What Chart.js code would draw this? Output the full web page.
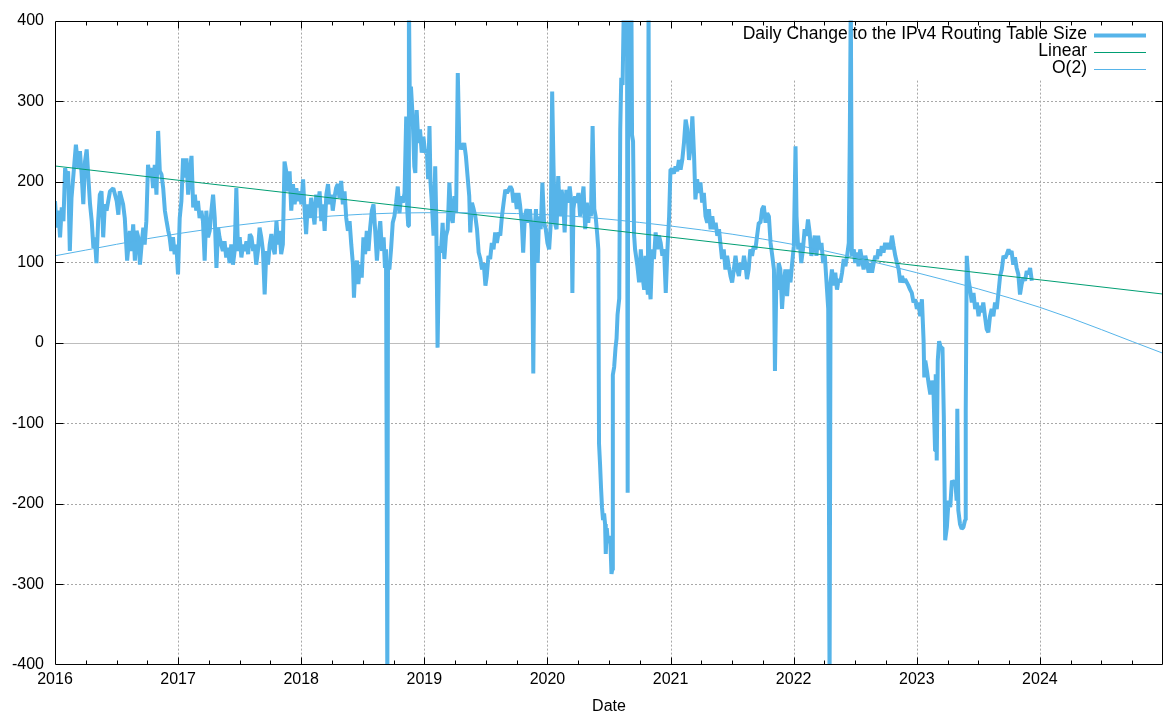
<!DOCTYPE html>
<html>
<head>
<meta charset="utf-8">
<title>Daily Change to the IPv4 Routing Table Size</title>
<script src="https://cdn.jsdelivr.net/npm/chart.js@4.4.1/dist/chart.umd.min.js"></script>
<style>
  html, body { margin: 0; padding: 0; background: #fff; }
  canvas { display: block; }
</style>
</head>
<body>
<canvas id="chart" width="1168" height="713"></canvas>
<script>
// days since 2016-01-01, and the daily change
const days = [
  0, 5, 10, 15, 20, 25, 30, 35, 39, 44,
  49, 54, 62, 69, 74, 79, 84, 89, 94, 99,
  104, 109, 114, 118, 123, 128, 133, 138, 143, 148,
  153, 163, 173, 183, 188, 192, 202, 207, 214, 222,
  227, 232, 237, 242, 247, 252, 257, 262, 266, 271,
  276, 281, 286, 291, 296, 301, 306, 311, 316, 321,
  326, 331, 336, 340, 345, 350, 355, 360, 365, 370,
  375, 380, 385, 390, 395, 400, 405, 410, 415, 419,
  424, 429, 434, 439, 444, 449, 454, 459, 464, 469,
  474, 479, 484, 488, 493, 498, 503, 508, 513, 518,
  523, 528, 533, 538,
  543, 548, 553, 558, 563, 568, 573, 578, 583, 588,
  592, 597, 602, 607, 612, 617, 622, 627, 632, 637,
  642, 647, 652, 657, 662, 666, 671, 676, 681, 686,
  691, 696, 701, 706, 711, 716, 721, 726, 731, 736,
  740, 745, 750, 755, 760, 765, 770, 775, 780, 785,
  790, 795, 800, 805, 810, 815, 820, 824, 829, 834,
  839, 844, 849, 854, 859, 864, 869, 874, 879, 884,
  887, 891, 896, 900, 905, 910, 915, 920, 925, 930,
  935, 940, 945, 950, 955, 960, 965, 970, 975, 979,
  982, 984, 986, 988, 992, 997, 1002, 1007, 1012, 1017,
  1022, 1027, 1032, 1037, 1042, 1045, 1048, 1050, 1053, 1056,
  1061, 1066, 1069, 1073, 1078, 1083, 1088, 1093, 1098, 1103,
  1107, 1111, 1114, 1118, 1123, 1128, 1131, 1135, 1140, 1145,
  1150, 1155, 1160, 1165, 1170, 1175, 1180, 1185, 1190, 1195,
  1200, 1205, 1209, 1214, 1219, 1224, 1229, 1232, 1237, 1242,
  1247, 1252, 1257, 1262, 1267, 1272, 1277, 1281, 1286, 1291,
  1296, 1301, 1306, 1311, 1316, 1321, 1326, 1331, 1336, 1341,
  1346, 1351, 1356, 1360, 1365, 1370, 1375, 1380, 1385, 1389,
  1394, 1399, 1404, 1409, 1414, 1417, 1419, 1423, 1427, 1432,
  1436, 1441, 1446, 1451, 1456, 1461, 1466, 1471, 1475, 1479,
  1483, 1488, 1493, 1498, 1503, 1508, 1512, 1517, 1522, 1527,
  1532, 1535, 1538, 1543, 1548, 1553, 1558, 1563, 1568, 1573,
  1578, 1582, 1586, 1590, 1595, 1600, 1604, 1609, 1612, 1614,
  1617, 1620, 1623, 1626, 1629, 1632, 1634, 1637, 1640, 1644,
  1648, 1651, 1653, 1655, 1659, 1663, 1666, 1669, 1674, 1677,
  1680, 1684, 1688, 1691, 1694, 1697, 1699, 1701, 1704, 1707,
  1710, 1712, 1715, 1718, 1721, 1728, 1733, 1738, 1743, 1748,
  1752, 1756, 1759, 1761, 1763, 1767, 1772, 1777, 1782, 1787,
  1792, 1797, 1802, 1807, 1812, 1817, 1822, 1826, 1831, 1836,
  1841, 1846, 1851, 1856, 1861, 1866, 1871, 1876, 1881, 1886,
  1891, 1896, 1900, 1905, 1910, 1915, 1920, 1925, 1930, 1935,
  1940, 1945, 1950, 1955, 1960, 1965, 1970, 1975, 1979, 1984,
  1989, 1994, 1999, 2004, 2009, 2014, 2019, 2024, 2029, 2034,
  2039, 2044, 2049, 2053, 2058, 2063, 2068, 2073, 2078, 2083,
  2088, 2093, 2098, 2103, 2108, 2113, 2118, 2123, 2128, 2133,
  2136, 2140, 2143, 2147, 2152, 2157, 2162, 2167, 2172, 2177,
  2182, 2187, 2192, 2197, 2200, 2205, 2210, 2214, 2219, 2224,
  2229, 2234, 2239, 2244, 2249, 2254, 2259, 2264, 2269, 2274,
  2279, 2284, 2289, 2294, 2296, 2298, 2301, 2305, 2310, 2315,
  2320, 2325, 2330, 2335, 2340, 2345, 2350, 2355, 2358, 2361,
  2364, 2370, 2374, 2379, 2384, 2389, 2394, 2399, 2404, 2409,
  2414, 2419, 2424, 2429, 2434, 2439, 2443, 2448, 2453, 2458,
  2463, 2468, 2473, 2478, 2483, 2488, 2493, 2498, 2503, 2508,
  2513, 2518, 2522, 2527, 2532, 2537, 2542, 2547, 2552, 2557,
  2562, 2567, 2572, 2577, 2579, 2582, 2587, 2592, 2597, 2601,
  2606, 2611, 2613, 2616, 2619, 2623, 2628, 2633, 2637, 2641,
  2646, 2651, 2656, 2661, 2666, 2671, 2675, 2677, 2680, 2685,
  2690, 2695, 2700, 2702, 2705, 2710, 2715, 2720, 2725, 2730,
  2735, 2740, 2745, 2750, 2754, 2759, 2764, 2769, 2774, 2779,
  2784, 2789, 2794, 2799, 2804, 2809, 2814, 2819, 2824, 2829,
  2833, 2838, 2843, 2848, 2853, 2858, 2863, 2868, 2873, 2878,
  2883, 2888, 2893, 2898
];

const change = [
  176, 143, 164, 131, 168, 151, 217, 205, 213, 114,
  180, 205, 246, 217, 238, 209, 172, 225, 240, 205,
  172, 151, 118, 131, 99, 151, 184, 188, 131, 172,
  164, 188, 192, 176, 159, 188, 172, 155, 102, 139,
  114, 147, 102, 139, 131, 97, 122, 143, 122, 151,
  221, 205, 217, 192, 221, 184, 263, 213, 209, 192,
  164, 151, 139, 131, 114, 131, 110, 122, 85, 155,
  176, 229, 205, 229, 184, 213, 232, 168, 184, 164,
  176, 155, 164, 151, 102, 164, 131, 139, 164, 184,
  155, 93, 143, 131, 122, 114, 126, 106, 118, 99,
  122, 97, 114, 192,
  114, 131, 106, 122, 114, 126, 110, 135, 131, 114,
  122, 97, 114, 143, 131, 114, 60, 114, 97, 122,
  135, 118, 110, 151, 122, 139, 110, 122, 225, 213,
  188, 213, 164, 197, 172, 192, 176, 188, 172, 203,
  168, 135, 172, 155, 180, 164, 147, 184, 168, 188,
  151, 172, 139, 184, 197, 172, 184, 164, 180, 192,
  197, 180, 201, 172, 188, 155, 139, 151, 122, 97,
  56, 93, 102, 73, 97, 81, 131, 110, 139, 114,
  143, 164, 172, 139, 102, 131, 151, 114, 131, 93,
  116, -142, -430, 100, 91, 116, 149, 157, 174, 194,
  161, 182, 174, 186, 281, 166, 145, 430, 281, 318,
  281, 219, 211, 289, 248, 265, 236, 256, 236, 240,
  203, 269, 199, 174, 133, 219, 157, -6, 120, 112,
  149, 104, 133, 141, 199, 157, 149, 182, 161, 335,
  240, 248, 240, 248, 232, 207, 182, 137, 174, 166,
  157, 141, 112, 104, 91, 99, 71, 83, 108, 104,
  124, 116, 137, 124, 137, 133, 157, 174, 190, 186,
  190, 194, 190, 174, 186, 166, 186, 170, 149, 112,
  157, 166, 149, 166, 141, 50, -38, 141, 166, 99,
  157, 141, 199, 149, 141, 124, 116, 149, 312, 219,
  149, 141, 207, 157, 190, 174, 137, 190, 174, 194,
  174, 62, 166, 182, 174, 186, 157, 174, 194, 141,
  174, 149, 166, 157, 269, 166, 157, 133, 116, -125,
  -150, -180, -205, -220, -212, -225, -262, -230, -245, -240,
  -250, -287, -282, -40, -30, -6, 5, 35, 55, 265,
  329, 320, 430, 380, 430, 430, -186, 430, 420, 430,
  430, 258, 250, 134, 116, 95, 75, 116, 83, 66,
  108, 75, 60, 430, 75, 54, 116, 104, 137, 116,
  133, 124, 108, 116, 62, 116, 157, 215, 215, 210,
  219, 213, 227, 215, 227, 248, 277, 265, 227, 244,
  281, 232, 178, 203, 186, 199, 174, 186, 157, 149,
  166, 141, 157, 141, 149, 133, 141, 120, 104, 116,
  91, 108, 95, 83, 75, 91, 108, 91, 83, 99,
  91, 108, 95, 79, 91, 116, 108, 120, 116, 133,
  149, 149, 166, 170, 149, 161, 157, 124, 108, 91,
  -35, 75, 66, 99, 91, 42, 75, 91, 58, 91,
  75, 99, 120, 244, 157, 116, 124, 99, 116, 141,
  133, 153, 137, 108, 120, 133, 108, 133, 116, 124,
  99, 108, 75, 42, -170, -430, 75, 91, 71, 87,
  66, 79, 75, 87, 104, 95, 108, 124, 254, 430,
  108, 116, 99, 112, 95, 116, 104, 91, 108, 99,
  87, 99, 87, 99, 108, 104, 116, 108, 120, 112,
  124, 116, 124, 116, 133, 120, 108, 99, 91, 75,
  83, 75, 79, 75, 71, 66, 62, 50, 54, 42,
  50, 33, 54, 2, -43, -22, -35, -51, -64, -47,
  -55, -134, -39, -146, -22, 2, -6, -6, -92, -245,
  -229, -196, -204, -171, -175, -171, -196, -82, -208, -225,
  -231, -229, -220, -84, 108, 79, 66, 50, 62, 42,
  50, 33, 46, 38, 50, 33, 17, 13, 33, 42,
  33, 50, 42, 62, 83, 91, 108, 105, 110, 116,
  110, 114, 97, 106, 93, 85, 60, 73, 81, 77,
  89, 85, 93, 77
];

// fitted curves
const linearYears = [2016, 2025];
const linearFit = [219.5, 60.5];
const quadYears = [2016, 2017, 2018, 2019, 2020, 2021, 2022, 2023, 2024, 2025];
const quadFit = [108, 135.5, 154.5, 161.5, 159, 145, 122, 87, 44, -13];

const yearLabels = ['2016', '2017', '2018', '2019', '2020', '2021', '2022', '2023', '2024'];
const yTicks = [-400, -300, -200, -100, 0, 100, 200, 300, 400];

const FONT = '"Liberation Sans", Arial, Helvetica, sans-serif';
const BLUE = '#56b4e9';
const GREEN = '#009e73';

if (days.length !== change.length) console.log('length mismatch', days.length, change.length);

const dailyPoints = days.map((d, i) => ({ x: 2016 + d / 365.25, y: change[i] }));
const linearPoints = linearYears.map((x, i) => ({ x: x, y: linearFit[i] }));
const quadPoints = quadYears.map((x, i) => ({ x: x, y: quadFit[i] }));

// gnuplot style frame: dotted grid, key box, inward ticks, key
const frame = {
  id: 'frame',
  beforeDatasetsDraw(chart) {
    const { ctx, chartArea: a, scales: { x, y } } = chart;
    ctx.save();
    ctx.lineWidth = 1;
    ctx.strokeStyle = '#a8a8a8';
    ctx.setLineDash([2, 2]);
    ctx.beginPath();
    for (let yr = 2017; yr <= 2024; yr++) {
      const px = Math.round(x.getPixelForValue(yr)) + 0.5;
      ctx.moveTo(px, a.top);
      ctx.lineTo(px, a.bottom);
    }
    yTicks.forEach(v => {
      if (v === 0 || Math.abs(v) === 400) return;
      const py = Math.round(y.getPixelForValue(v)) + 0.5;
      ctx.moveTo(a.left, py);
      ctx.lineTo(a.right, py);
    });
    ctx.stroke();
    ctx.setLineDash([]);

    // blank area behind the key
    ctx.fillStyle = '#fff';
    ctx.fillRect(662, a.top + 1, a.right - 663, 58);

    // zero axis
    const py0 = Math.round(y.getPixelForValue(0)) + 0.5;
    ctx.strokeStyle = '#bdbdbd';
    ctx.beginPath();
    ctx.moveTo(a.left, py0);
    ctx.lineTo(a.right, py0);
    ctx.stroke();
    ctx.restore();
  },
  afterDatasetsDraw(chart) {
    const { ctx, chartArea: a, scales: { x, y } } = chart;
    const L = Math.round(a.left) + 0.5, R = Math.round(a.right) - 0.5;
    const T = Math.round(a.top) + 0.5, B = Math.round(a.bottom) - 0.5;
    ctx.save();
    ctx.strokeStyle = '#000';
    ctx.lineWidth = 1;
    ctx.beginPath();
    ctx.rect(L, T, R - L, B - T);
    // y ticks, both sides
    yTicks.forEach(v => {
      if (Math.abs(v) === 400) return;
      const py = Math.round(y.getPixelForValue(v)) + 0.5;
      ctx.moveTo(L, py); ctx.lineTo(L + 8, py);
      ctx.moveTo(R, py); ctx.lineTo(R - 7, py);
    });
    // x ticks: years and quarters, top and bottom
    for (let q = 1; q < 36; q++) {
      const px = Math.round(x.getPixelForValue(2016 + q / 4)) + 0.5;
      const len = q % 4 === 0 ? 7 : 4;
      ctx.moveTo(px, B); ctx.lineTo(px, B - len);
      ctx.moveTo(px, T); ctx.lineTo(px, T + len);
    }
    ctx.stroke();

    // key
    ctx.font = '17.5px ' + FONT;
    ctx.fillStyle = '#000';
    ctx.textAlign = 'right';
    ctx.textBaseline = 'middle';
    chart.data.datasets.forEach((ds, i) => {
      const ky = Math.round(a.top + 14 + i * 17) + 0.5;
      ctx.fillText(ds.label, 1087, ky - 1);
      ctx.strokeStyle = ds.borderColor;
      ctx.lineWidth = ds.borderWidth;
      ctx.beginPath();
      ctx.moveTo(1094, ky);
      ctx.lineTo(1146, ky);
      ctx.stroke();
    });
    ctx.restore();
  }
};

Chart.defaults.font.family = FONT;
Chart.defaults.font.size = 16;
Chart.defaults.color = '#000';

new Chart(document.getElementById('chart'), {
  type: 'line',
  data: {
    datasets: [
      {
        label: 'Daily Change to the IPv4 Routing Table Size',
        data: dailyPoints,
        borderColor: BLUE,
        borderWidth: 4,
        borderJoinStyle: 'bevel',
        pointRadius: 0,
        tension: 0,
        order: 3
      },
      {
        label: 'Linear',
        data: linearPoints,
        borderColor: GREEN,
        borderWidth: 1,
        pointRadius: 0,
        order: 2
      },
      {
        label: 'O(2)',
        data: quadPoints,
        borderColor: BLUE,
        borderWidth: 1,
        pointRadius: 0,
        cubicInterpolationMode: 'monotone',
        order: 1
      }
    ]
  },
  options: {
    responsive: false,
    animation: false,
    devicePixelRatio: 1,
    layout: { padding: { top: 19, right: 3, left: 0, bottom: 0 } },
    plugins: {
      legend: { display: false },
      tooltip: { enabled: false }
    },
    scales: {
      x: {
        type: 'linear',
        min: 2016,
        max: 2025,
        grid: { display: false, drawTicks: false },
        border: { display: false },
        ticks: {
          stepSize: 1,
          maxRotation: 0,
          autoSkip: false,
          padding: 5,
          callback: v => yearLabels[v - 2016] || ''
        },
        title: {
          display: true,
          text: 'Date',
          font: { size: 16, lineHeight: 1 },
          padding: { top: 0, bottom: -2 }
        },
        afterFit: s => { s.height = 48; }
      },
      y: {
        min: -400,
        max: 400,
        grid: { display: false, drawTicks: false },
        border: { display: false },
        ticks: {
          stepSize: 100,
          padding: 11
        },
        afterFit: s => { s.width = 55; }
      }
    }
  },
  plugins: [frame]
});
</script>
</body>
</html>
